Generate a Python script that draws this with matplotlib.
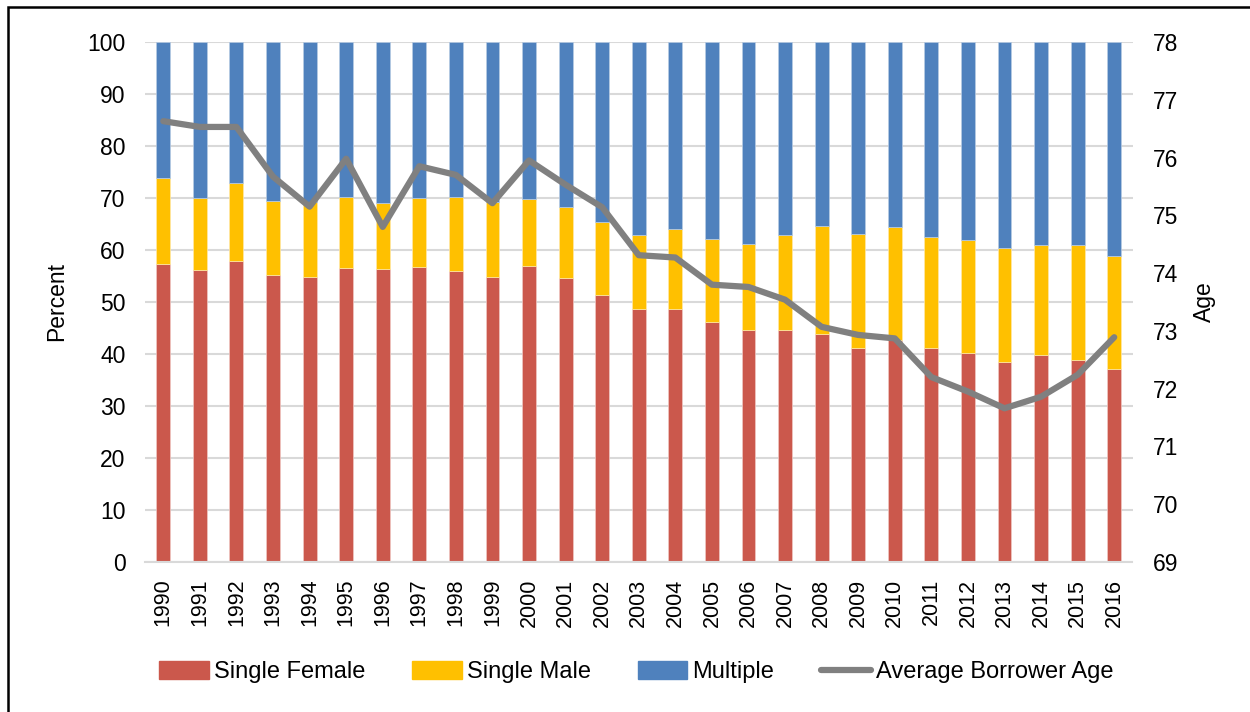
import numpy as np
import matplotlib.pyplot as plt
from matplotlib.patches import Rectangle
from matplotlib.lines import Line2D

plt.rcParams['font.family'] = ['Liberation Sans', 'DejaVu Sans']

years = [str(y) for y in range(1990, 2017)]

single_female = [57.4, 56.2, 57.8, 55.1, 54.9, 56.6, 56.4, 56.7, 56.0, 54.9,
                 57.0, 54.6, 51.4, 48.7, 48.7, 46.1, 44.6, 44.7, 43.9, 41.2,
                 42.7, 41.2, 40.2, 38.5, 39.8, 38.9, 37.1]
# cumulative top of the yellow segment
female_plus_male = [73.9, 70.0, 72.9, 69.5, 69.3, 70.1, 69.0, 70.0, 70.2, 69.3,
                    69.9, 68.3, 65.4, 62.9, 64.0, 62.1, 61.2, 62.9, 64.6, 63.1,
                    64.4, 62.5, 62.0, 60.4, 61.0, 61.0, 58.9]
avg_age = [76.63, 76.53, 76.53, 75.67, 75.15, 75.98, 74.80, 75.85, 75.70, 75.21,
           75.95, 75.53, 75.14, 74.31, 74.27, 73.80, 73.76, 73.54, 73.07, 72.93,
           72.87, 72.20, 71.95, 71.66, 71.86, 72.24, 72.89]

single_male = [t - f for t, f in zip(female_plus_male, single_female)]
multiple = [100 - t for t in female_plus_male]

c_red = '#CB584C'
c_yellow = '#FFC000'
c_blue = '#4F81BD'
c_line = '#808080'

fig = plt.figure(figsize=(12.5, 7.12), dpi=100)
ax = fig.add_axes([0.116, 0.2107, 0.79, 0.7303])

x = np.arange(len(years))
w = 0.38
ax.bar(x, single_female, w, color=c_red, edgecolor='#F0C8C4', linewidth=0.5, zorder=2)
ax.bar(x, single_male, w, bottom=single_female, color=c_yellow,
       edgecolor='#FFE9A8', linewidth=0.5, zorder=2)
ax.bar(x, multiple, w, bottom=female_plus_male, color=c_blue,
       edgecolor='#B8CCE4', linewidth=0.5, zorder=2)

ax.set_xlim(-0.5, len(years) - 0.5)
ax.set_ylim(0, 100)
ax.set_yticks(range(0, 101, 10))
ax.yaxis.grid(True, color='#D9D9D9', linewidth=1.5, zorder=0)
ax.set_axisbelow(True)
ax.set_xticks(x)
ax.set_xticklabels(years, rotation=90)
ax.tick_params(axis='y', length=0, labelsize=16.5, pad=14)
ax.tick_params(axis='x', length=0, labelsize=15.5, pad=12)
for s in ['top', 'right', 'left']:
    ax.spines[s].set_visible(False)
ax.spines['bottom'].set_color('#D9D9D9')
ax.spines['bottom'].set_linewidth(1.5)
ax.set_ylabel('Percent', fontsize=16.5, labelpad=14)

ax2 = ax.twinx()
ax2.plot(x, avg_age, color=c_line, linewidth=4.5, solid_capstyle='round', zorder=3)
ax2.set_ylim(69, 78)
ax2.set_yticks(range(69, 79))
ax2.tick_params(axis='y', length=0, labelsize=16.5, pad=15)
for s in ax2.spines.values():
    s.set_visible(False)
ax2.set_ylabel('Age', fontsize=16.5, labelpad=10)

handles = [
    Rectangle((0, 0), 1, 1, color=c_red),
    Rectangle((0, 0), 1, 1, color=c_yellow),
    Rectangle((0, 0), 1, 1, color=c_blue),
    Line2D([0], [0], color=c_line, linewidth=4.5, solid_capstyle='round'),
]
labels = ['Single Female', 'Single Male', 'Multiple', 'Average Borrower Age']
fig.legend(handles, labels, loc='center', bbox_to_anchor=(0.509, 0.056), ncol=4,
           frameon=False, fontsize=17, handlelength=2.1, handleheight=0.76,
           handletextpad=0.2, columnspacing=2.0)

# chart border, clipped by the image edges as in the reference
fig.patches.append(Rectangle((8 / 1250, -0.05), 1.1, 1 - 7 / 712 + 0.05,
                             transform=fig.transFigure, fill=False,
                             edgecolor='black', linewidth=1.8))

fig.savefig('out.png', dpi=100)
